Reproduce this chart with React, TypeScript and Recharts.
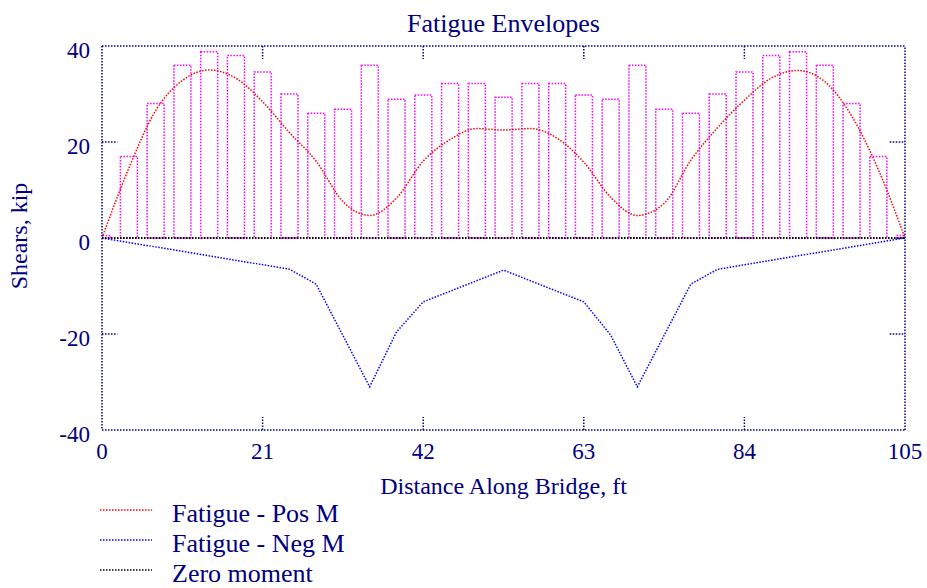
import React from 'react';
import { ComposedChart, Bar, Line, XAxis, YAxis, ReferenceLine } from 'recharts';

// stations along the bridge, ft
const stations = [
  0, 3.5, 7, 10.5, 14, 17.5, 21, 24.5, 28, 31.5, 35, 38.5, 42, 45.5, 49, 52.5,
  56, 59.5, 63, 66.5, 70, 73.5, 77, 80.5, 84, 87.5, 91, 94.5, 98, 101.5, 105,
];
// fatigue shear range (dotted bars)
const rangeShear = [
  0.5, 17, 28, 36, 38.8, 38, 34.6, 30, 26, 26.8, 36, 28.9, 29.8, 32.2, 32.2, 29.3,
  32.2, 32.2, 29.8, 28.9, 36, 26.8, 26, 30, 34.6, 38, 38.8, 36, 28, 17, 0.5,
];
// Fatigue - Pos M
const posShear = [
  0, 14.5, 26.5, 32.8, 35, 33.3, 28.4, 22, 16, 7.6, 4.7, 8.3, 16, 20.5, 22.8, 22.5,
  22.8, 20.8, 15.8, 8.5, 4.7, 7.2, 16.2, 23, 28.7, 33.3, 34.9, 32.6, 25.5, 14.3, 0,
];
// Fatigue - Neg M (vertices)
const negStations = [0, 24.5, 28, 35, 38.5, 42, 52.5, 63, 66.5, 70, 77, 80.5, 105];
const negShear = [0, -6.5, -9.6, -31, -19.6, -13.3, -6.7, -13.3, -20.2, -31, -9.6, -6.5, 0];
// Zero moment
const zeroStations = [0, 105];
const zeroShear = [0, 0];

const xTicks = [0, 21, 42, 63, 84, 105];
const yTicks = [-40, -20, 0, 20, 40];
const innerXTicks = [21, 42, 63, 84];
const innerYTicks = [-20, 20];

const NAVY = '#000080';
const FONT = 'Liberation Serif, Times New Roman, serif';
const DOTS = '1.5 1.5';

const mainData = stations.map((x, i) => ({ x, range: rangeShear[i], pos: posShear[i] }));
const negData = negStations.map((x, i) => ({ x, neg: negShear[i] }));
const zeroData = zeroStations.map((x, i) => ({ x, zero: zeroShear[i] }));

const legendItems = [
  { name: 'Fatigue - Pos M', color: '#ff0000' },
  { name: 'Fatigue - Neg M', color: '#0000ff' },
  { name: 'Zero moment', color: '#000000' },
];

const XTick = (props: any) => (
  <text x={props.x} y={props.y + 23} textAnchor="middle" fill={NAVY} fontSize={23} fontFamily={FONT}>
    {props.payload.value}
  </text>
);

const YTick = (props: any) => (
  <text x={props.x} y={props.y + 11.5} textAnchor="end" fill={NAVY} fontSize={23} fontFamily={FONT}>
    {props.payload.value}
  </text>
);

const YLabel = (props: any) => {
  const vb = props.viewBox;
  const cx = 27;
  const cy = vb.y + vb.height / 2 - 2;
  return (
    <text x={cx} y={cy} transform={`rotate(-90 ${cx} ${cy})`} textAnchor="middle"
      fill={NAVY} fontSize={24} fontFamily={FONT}>
      Shears, kip
    </text>
  );
};

const App: React.FC = () => {
  return (
    <div style={{ position: 'absolute', left: 0, top: 0, width: 927, height: 588, background: '#fff' }}>
      <ComposedChart width={927} height={588} data={mainData} margin={{ top: 46, right: 22, left: 0, bottom: 0 }}>
        <XAxis dataKey="x" type="number" domain={[0, 105]} ticks={xTicks} height={158} allowDataOverflow
          tickLine={false} tickMargin={0} tick={<XTick />}
          axisLine={{ stroke: NAVY, strokeDasharray: DOTS, strokeWidth: 1.5 }}
          label={{ value: 'Distance Along Bridge, ft', position: 'insideTop', offset: 47, fill: NAVY, fontSize: 24, fontFamily: FONT }} />
        <YAxis type="number" domain={[-40, 40]} ticks={yTicks} width={102}
          tickLine={false} tickMargin={6} tick={<YTick />}
          axisLine={{ stroke: NAVY, strokeDasharray: DOTS, strokeWidth: 1.5 }}
          label={<YLabel />} />

        <ReferenceLine y={40} stroke={NAVY} strokeDasharray={DOTS} strokeWidth={1.5}
          label={{ value: 'Fatigue Envelopes', position: 'top', offset: 14, fill: NAVY, fontSize: 26, fontFamily: FONT }} />
        <ReferenceLine x={105} stroke={NAVY} strokeDasharray={DOTS} strokeWidth={1.5} />
        {innerXTicks.map((t) => (
          <ReferenceLine key={`b${t}`} segment={[{ x: t, y: -40 }, { x: t, y: -37.3 }]} stroke={NAVY} strokeDasharray={DOTS} strokeWidth={1.5} />
        ))}
        {innerXTicks.map((t) => (
          <ReferenceLine key={`t${t}`} segment={[{ x: t, y: 40 }, { x: t, y: 37.3 }]} stroke={NAVY} strokeDasharray={DOTS} strokeWidth={1.5} />
        ))}
        {innerYTicks.map((t) => (
          <ReferenceLine key={`l${t}`} segment={[{ x: 0, y: t }, { x: 2, y: t }]} stroke={NAVY} strokeDasharray={DOTS} strokeWidth={1.5} />
        ))}
        {innerYTicks.map((t) => (
          <ReferenceLine key={`r${t}`} segment={[{ x: 103, y: t }, { x: 105, y: t }]} stroke={NAVY} strokeDasharray={DOTS} strokeWidth={1.5} />
        ))}

        <Bar dataKey="range" barSize={17} fill="none" stroke="#ff00ff" strokeWidth={1.5}
          strokeDasharray={DOTS} isAnimationActive={false} />
        <Line dataKey="pos" type="monotone" stroke="#ff0000" strokeWidth={1.5} strokeDasharray={DOTS}
          dot={false} isAnimationActive={false} />
        <Line data={negData} dataKey="neg" type="linear" stroke="#0000ff" strokeWidth={1.5} strokeDasharray={DOTS}
          dot={false} isAnimationActive={false} />
        <Line data={zeroData} dataKey="zero" type="linear" stroke="#000000" strokeWidth={2} strokeDasharray={DOTS}
          dot={false} isAnimationActive={false} />
      </ComposedChart>

      <svg width={400} height={93} style={{ position: 'absolute', left: 0, top: 495 }}>
        {legendItems.map((item, i) => (
          <g key={item.name}>
            <line x1={100} y1={15 + i * 30} x2={152} y2={15 + i * 30} stroke={item.color} strokeWidth={1.5} strokeDasharray={DOTS} />
            <text x={172} y={27.3 + i * 29.7} fill={NAVY} fontSize={26} fontFamily={FONT}>{item.name}</text>
          </g>
        ))}
      </svg>
    </div>
  );
};

export default App;
